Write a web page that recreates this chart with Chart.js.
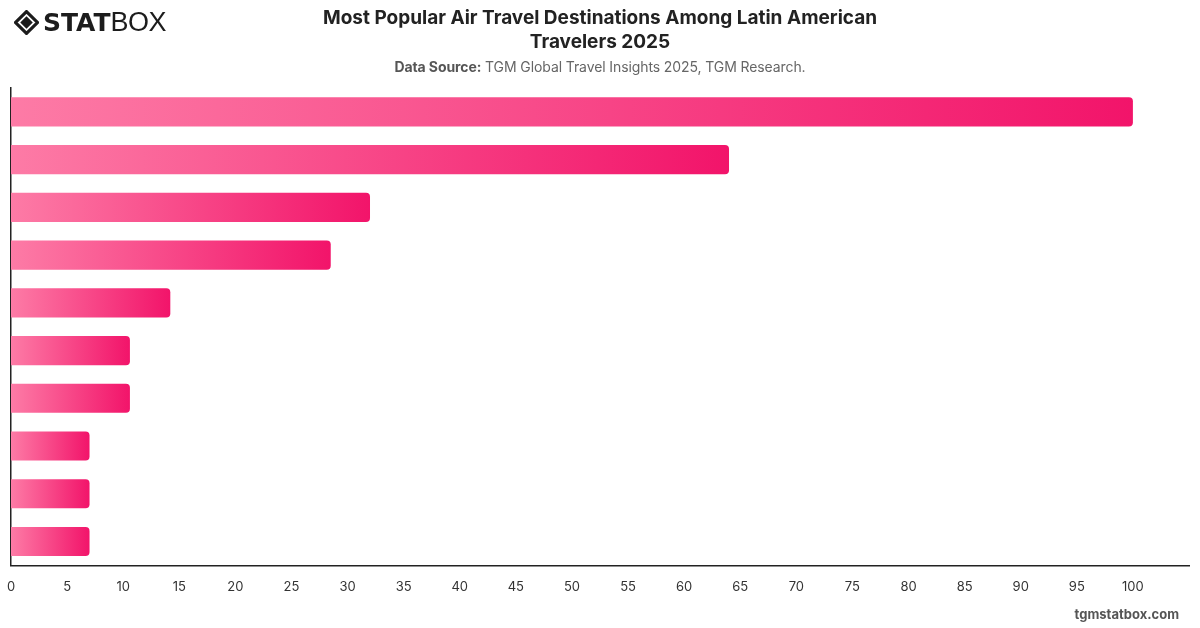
<!DOCTYPE html>
<html>
<head>
<meta charset="utf-8">
<script src="https://cdn.jsdelivr.net/npm/chart.js@4.4.1/dist/chart.umd.min.js"></script>
<style>
  html, body { margin: 0; padding: 0; background: #fff; }
  body { width: 1200px; height: 628px; position: relative; overflow: hidden; font-family: Inter, "Open Sans", sans-serif; }
  #myChart { position: absolute; left: 0; top: 0; }
  .logo { position: absolute; left: 14px; top: 7px; display: flex; align-items: center; color: #1c1c1c; }
  .logo svg { margin-right: 4px; }
  .logo .stat { font-family: "DejaVu Sans", sans-serif; font-weight: 900; font-size: 25px; letter-spacing: 0px; }
  .logo .box { font-family: "Liberation Sans", sans-serif; font-weight: 400; font-size: 27px; letter-spacing: -0.5px; }
  .title { position: absolute; left: 0; width: 1200px; top: 6px; text-align: center; font-size: 19px; font-weight: 700; color: #222; line-height: 24px; }
  .source { position: absolute; left: 0; width: 1200px; top: 58px; text-align: center; font-size: 14px; color: #666; letter-spacing: -0.1px; }
  .source b { color: #555; }
  .footer { position: absolute; right: 21px; top: 606px; font-size: 13px; font-weight: 700; color: #555; }
</style>
</head>
<body>
<canvas id="myChart" width="1200" height="628"></canvas>
<div class="logo">
  <svg width="25" height="25" viewBox="0 0 24 24">
    <path d="M12 1.5 L22.5 12 L12 22.5 L1.5 12 Z" fill="none" stroke="#1c1c1c" stroke-width="3"/>
    <path d="M12 6 L18 12 L12 18 L6 12 Z" fill="#1c1c1c"/>
  </svg>
  <span class="stat">STAT</span><span class="box">BOX</span>
</div>
<div class="title">Most Popular Air Travel Destinations Among Latin American<br>Travelers 2025</div>
<div class="source"><b>Data Source:</b> TGM Global Travel Insights 2025, TGM Research.</div>
<div class="footer">tgmstatbox.com</div>
<script>
// category names are not printed on the chart, so these are placeholders
var categories = ["Destination 1", "Destination 2", "Destination 3", "Destination 4", "Destination 5",
                  "Destination 6", "Destination 7", "Destination 8", "Destination 9", "Destination 10"];
var values = [100, 64, 32, 28.5, 14.2, 10.6, 10.6, 7, 7, 7];
var axisMax = 105;
var tickStep = 5;

var ctx = document.getElementById("myChart").getContext("2d");

// each bar gets its own left-to-right gradient, light pink to deep pink
function barGradient(context) {
    var chart = context.chart;
    var x = chart.scales.x;
    if (!chart.chartArea || !x) return "#f7447f";
    var x0 = x.getPixelForValue(0);
    var x1 = x.getPixelForValue(context.raw || 0);
    if (!isFinite(x1) || x1 <= x0) return "#f7447f";
    var g = chart.ctx.createLinearGradient(x0, 0, x1, 0);
    g.addColorStop(0, "#fd7ba6");
    g.addColorStop(1, "#f2146a");
    return g;
}

var barChart = new Chart(ctx, {
    type: 'bar',
    data: {
        labels: categories,
        datasets: [{
            data: values,
            backgroundColor: barGradient,
            borderRadius: 4,
            borderSkipped: 'start',
            barPercentage: 0.61,
            categoryPercentage: 1
        }]
    },
    options: {
        indexAxis: 'y',
        responsive: false,
        animation: false,
        layout: { padding: { left: 11, right: 11, top: 88, bottom: 19 } },
        plugins: {
            legend: { display: false },
            tooltip: { enabled: false }
        },
        scales: {
            x: {
                min: 0,
                max: axisMax,
                grid: { display: false, drawTicks: false },
                border: { display: true, color: "#222", width: 1.5 },
                ticks: {
                    stepSize: tickStep,
                    padding: 14,
                    color: "#333",
                    font: { family: "Inter", size: 13 },
                    callback: function (v) { return v > 100 ? "" : v; }
                },
                afterFit: function (scale) { scale.paddingLeft = 0; scale.paddingRight = 0; }
            },
            y: {
                grid: { display: false, drawTicks: false },
                border: { display: true, color: "#222", width: 1.5 },
                ticks: { display: false },
                afterFit: function (scale) { scale.width = 0; }
            }
        }
    }
});
</script>
</body>
</html>
